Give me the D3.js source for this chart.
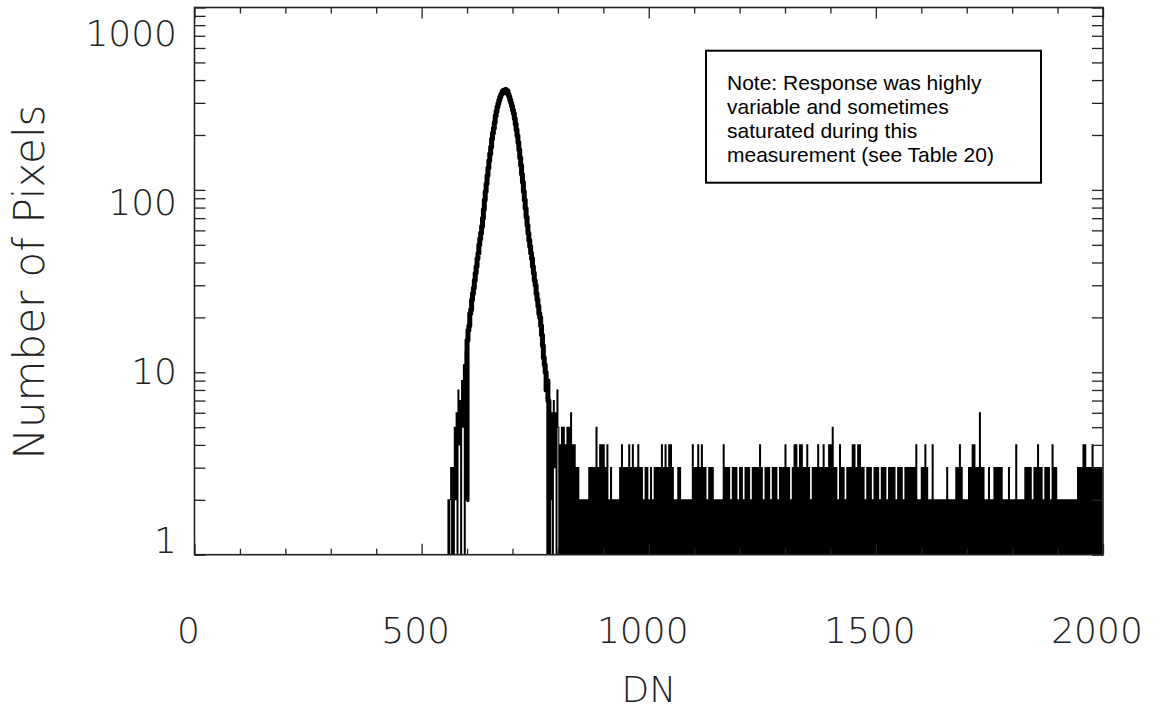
<!DOCTYPE html>
<html>
<head>
<meta charset="utf-8">
<title>DN histogram</title>
<script src="https://d3js.org/d3.v7.min.js"></script>
<style>
  body { margin: 0; background: #fff; }
  .lbl { font-family: "DejaVu Sans", sans-serif; font-weight: 200; fill: #222; }
  .note { font-family: "Liberation Sans", Arial, sans-serif; font-size: 21px; fill: #000; }
</style>
</head>
<body>
<svg id="chart" width="1159" height="715"></svg>
<script>

// histogram counts in 2-DN bins, peak part starts at DN 556
var peakStart = 556, binDN = 2;
var peakCounts = [
  0, 2, 0, 2, 3, 1, 3, 0, 5, 2, 6, 1, 8, 4, 7, 1, 9, 5, 11, 1, 13, 2,
  15, 17, 18, 21, 22, 25, 27, 29, 32, 35, 38, 42, 45, 50, 54, 58, 63, 70, 78, 88,
  98, 108, 120, 132, 145, 158, 172, 190, 205, 218, 235, 255, 270, 285, 298, 310, 322, 332, 340, 348,
  352, 345, 355, 340, 350, 335, 325, 312, 300, 288, 274, 262, 246, 230, 214, 198, 182, 166, 150, 136,
  122, 110, 98, 88, 79, 71, 64, 58, 53, 49, 45, 42, 38, 35, 32, 30, 27, 25, 23, 21,
  20, 18, 16, 14, 12, 11, 10, 8, 9, 7, 1, 7, 2, 6, 0, 7, 3, 6, 1, 8
];

// noise floor from DN 800 on, one digit per 2-DN bin, 100 DN per row
var noiseStart = 800;
var noiseRows = [
  "51 40 51 50 41 50 51 60 41 40 31 30 21 20 21 20 21 30 31 30 31 50 31 40 41",
  "41 30 41 20 31 20 21 20 21 30 41 30 31 30 41 30 41 30 31 40 31 30 21 30 31",
  "21 30 21 30 31 30 31 40 31 40 31 40 41 30 21 20 31 30 21 20 21 20 21 20 41",
  "31 30 41 30 41 30 31 20 31 30 31 20 21 20 21 20 41 30 31 30 21 30 31 30 21",
  "31 30 21 30 31 30 21 30 31 30 31 40 31 20 31 30 31 20 31 30 31 20 31 30 31",
  "41 30 31 20 31 40 41 30 41 40 31 30 41 30 21 30 31 30 41 30 31 40 31 30 41",
  "41 50 31 30 21 40 31 30 21 30 31 30 41 40 31 40 41 30 31 20 31 30 31 20 31",
  "31 30 21 30 31 30 21 30 31 30 31 20 31 30 31 20 31 30 31 30 31 30 41 20 21",
  "31 30 41 30 21 20 41 20 21 20 21 20 21 20 31 20 21 20 21 30 31 40 31 20 21",
  "21 30 31 40 41 30 31 60 31 30 21 20 31 20 21 30 31 30 31 30 21 20 21 30 21",
  "21 20 41 20 21 20 21 30 31 30 31 20 31 30 41 30 31 20 31 30 31 20 41 30 31",
  "21 20 21 20 21 20 21 20 21 20 21 30 31 30 41 40 31 30 31 40 31 30 31 30 31"
];

var xTicks = [0, 500, 1000, 1500, 2000];
var yTicks = [1, 10, 100, 1000];
var noteLines = [
  "Note: Response was highly",
  "variable and sometimes",
  "saturated during this",
  "measurement (see Table 20)"
];

var bins = peakCounts.map(function(c, i) { return {dn: peakStart + i * binDN, n: c}; });
noiseRows.forEach(function(row, r) {
  row.replace(/ /g, "").split("").forEach(function(ch, i) {
    bins.push({dn: noiseStart + r * 100 + i * binDN, n: +ch});
  });
});
bins.unshift({dn: 0, n: 0});

var svg = d3.select("#chart");
var plotL = 194.5, plotR = 1103, plotT = 7.5, plotB = 554.7;

var x = d3.scaleLinear().domain([0, 2000]).range([plotL, plotR]);
var y = d3.scaleLog().domain([1, 1000]).range([plotB, plotT]);
// tick labels in the original sit on a slightly compressed ladder
var yLab = d3.scaleLog().domain([1, 1000]).range([553, 46]);

svg.append("clipPath").attr("id", "clip")
  .append("rect").attr("x", plotL).attr("y", plotT)
  .attr("width", plotR - plotL).attr("height", plotB - plotT);

var line = d3.line()
  .x(function(d) { return x(d.dn + binDN / 2); })
  .y(function(d) { return y(Math.max(d.n, 1)); })
  .curve(d3.curveStep);

svg.append("path")
  .datum(bins)
  .attr("clip-path", "url(#clip)")
  .attr("fill", "none")
  .attr("stroke", "#000")
  .attr("stroke-width", 1.1)
  .attr("d", line);

// the peak itself is drawn heavier, as in the original
svg.append("path")
  .datum(bins.filter(function(d) { return d.dn >= 598 && d.dn <= 780; }))
  .attr("clip-path", "url(#clip)")
  .attr("fill", "none")
  .attr("stroke", "#000")
  .attr("stroke-width", 5)
  .attr("stroke-linejoin", "round")
  .attr("d", line);

// ticks
var xMinor = d3.range(0, 2001, 100).filter(function(v) { return v % 500 != 0; });
var yMinor = [];
[1, 10, 100].forEach(function(dec) { for (var k = 2; k <= 9; k++) yMinor.push(dec * k); });

function noDomain(g) { g.select(".domain").remove(); g.selectAll("line").attr("stroke", "#222").attr("stroke-width", 1.3); }

svg.append("g").attr("transform", "translate(0," + plotB + ")")
  .call(d3.axisBottom(x).tickValues(xTicks).tickSize(-11).tickFormat("")).call(noDomain);
svg.append("g").attr("transform", "translate(0," + plotB + ")")
  .call(d3.axisBottom(x).tickValues(xMinor).tickSize(-6).tickFormat("")).call(noDomain);
svg.append("g").attr("transform", "translate(0," + plotT + ")")
  .call(d3.axisTop(x).tickValues(xTicks).tickSize(-11).tickFormat("")).call(noDomain);
svg.append("g").attr("transform", "translate(0," + plotT + ")")
  .call(d3.axisTop(x).tickValues(xMinor).tickSize(-6).tickFormat("")).call(noDomain);
svg.append("g").attr("transform", "translate(" + plotL + ",0)")
  .call(d3.axisLeft(y).tickValues(yTicks.concat(yMinor)).tickSize(-11).tickFormat("")).call(noDomain);
svg.append("g").attr("transform", "translate(" + plotR + ",0)")
  .call(d3.axisRight(y).tickValues(yTicks.concat(yMinor)).tickSize(-11).tickFormat("")).call(noDomain);

// frame
svg.append("rect")
  .attr("x", plotL).attr("y", plotT)
  .attr("width", plotR - plotL).attr("height", plotB - plotT)
  .attr("fill", "none").attr("stroke", "#222").attr("stroke-width", 1.6);

// tick labels
svg.selectAll(".xl").data(xTicks).enter().append("text")
  .attr("class", "lbl")
  .attr("x", function(d) { return x(d) - 6; })
  .attr("y", 643)
  .attr("text-anchor", "middle")
  .attr("font-size", 36)
  .text(function(d) { return d; });

svg.selectAll(".yl").data(yTicks).enter().append("text")
  .attr("class", "lbl")
  .attr("x", 177)
  .attr("y", function(d) { return yLab(d); })
  .attr("text-anchor", "end")
  .attr("font-size", 36)
  .text(function(d) { return d; });

svg.append("text").attr("class", "lbl")
  .attr("x", x(1000)).attr("y", 702)
  .attr("text-anchor", "middle").attr("font-size", 36)
  .text("DN");

svg.append("text").attr("class", "lbl")
  .attr("transform", "translate(44,282) rotate(-90)")
  .attr("text-anchor", "middle").attr("font-size", 42)
  .text("Number of Pixels");

// note box
svg.append("rect")
  .attr("x", 706).attr("y", 50.7).attr("width", 335).attr("height", 132)
  .attr("fill", "#fff").attr("stroke", "#000").attr("stroke-width", 2);

svg.selectAll(".note").data(noteLines).enter().append("text")
  .attr("class", "note")
  .attr("x", 727)
  .attr("y", function(d, i) { return 90 + i * 24; })
  .text(function(d) { return d; });

</script>
</body>
</html>
